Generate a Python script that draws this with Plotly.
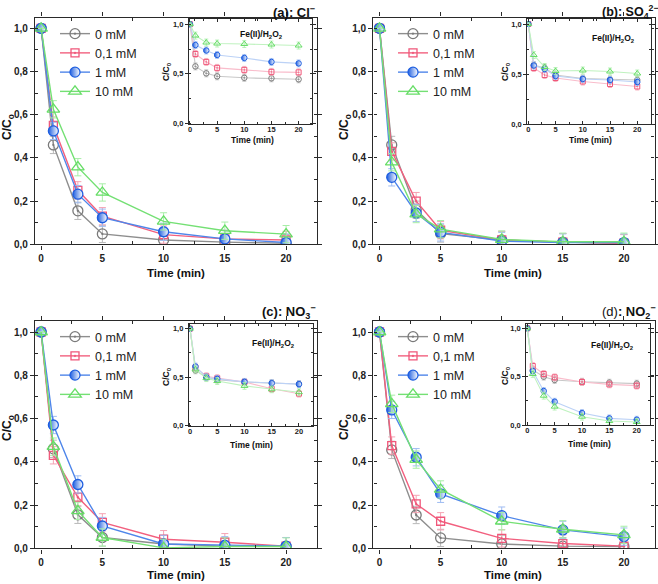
import plotly.graph_objects as go

W, H = 658, 584
FONT = "Liberation Sans, Arial, sans-serif"

time_min = [0, 1, 3, 5, 10, 15, 20]
series_names = ["0 mM", "0,1 mM", "1 mM", "10 mM"]
panel_titles = ["<b>(a): Cl<sup>−</sup></b>",
                "<b>(b): SO<sub>4</sub><sup>2−</sup></b>",
                "<b>(c): NO<sub>3</sub><sup>−</sup></b>",
                "(d)<b>: NO<sub>2</sub><sup>−</sup></b>"]
inset_label = "<b>Fe(II)/H<sub>2</sub>O<sub>2</sub></b>"
x_ticks = [0, 5, 10, 15, 20]

# (a) Cl-  main
a_0mM = [1.0, 0.46, 0.155, 0.048, 0.02, 0.01, 0.005]
a_01mM = [1.0, 0.55, 0.25, 0.13, 0.045, 0.025, 0.02]
a_1mM = [1.0, 0.525, 0.232, 0.123, 0.058, 0.025, 0.008]
a_10mM = [1.0, 0.625, 0.357, 0.24, 0.106, 0.063, 0.047]
# (a) inset Fe(II)/H2O2
ai_0mM = [1.0, 0.575, 0.505, 0.475, 0.46, 0.455, 0.445]
ai_01mM = [1.0, 0.70, 0.62, 0.56, 0.54, 0.52, 0.515]
ai_1mM = [1.0, 0.79, 0.735, 0.69, 0.66, 0.62, 0.605]
ai_10mM = [1.0, 0.885, 0.815, 0.805, 0.80, 0.795, 0.785]

# (b) SO4 2-
b_0mM = [1.0, 0.46, 0.16, 0.05, 0.02, 0.01, 0.005]
b_01mM = [1.0, 0.43, 0.20, 0.065, 0.02, 0.01, 0.005]
b_1mM = [1.0, 0.31, 0.145, 0.055, 0.015, 0.008, 0.008]
b_10mM = [1.0, 0.38, 0.14, 0.07, 0.022, 0.012, 0.012]
bi_0mM = [1.0, 0.59, 0.56, 0.49, 0.455, 0.445, 0.44]
bi_01mM = [1.0, 0.56, 0.49, 0.46, 0.425, 0.40, 0.375]
bi_1mM = [1.0, 0.585, 0.55, 0.48, 0.45, 0.44, 0.42]
bi_10mM = [1.0, 0.69, 0.57, 0.53, 0.535, 0.525, 0.505]

# (c) NO3-
c_0mM = [1.0, 0.46, 0.155, 0.05, 0.02, 0.01, 0.01]
c_01mM = [1.0, 0.43, 0.236, 0.12, 0.042, 0.028, 0.01]
c_1mM = [1.0, 0.57, 0.295, 0.103, 0.02, 0.014, 0.01]
c_10mM = [1.0, 0.47, 0.173, 0.05, 0.002, 0.008, 0.008]
ci_0mM = [1.0, 0.57, 0.50, 0.475, 0.45, 0.44, 0.43]
ci_01mM = [1.0, 0.60, 0.51, 0.49, 0.45, 0.38, 0.33]
ci_1mM = [1.0, 0.61, 0.50, 0.483, 0.452, 0.438, 0.428]
ci_10mM = [1.0, 0.58, 0.49, 0.46, 0.41, 0.375, 0.345]

# (d) NO2-
d_0mM = [1.0, 0.455, 0.154, 0.048, 0.02, 0.01, 0.008]
d_01mM = [1.0, 0.475, 0.205, 0.125, 0.046, 0.022, 0.01]
d_1mM = [1.0, 0.64, 0.421, 0.252, 0.151, 0.085, 0.054]
d_10mM = [1.0, 0.668, 0.41, 0.272, 0.125, 0.088, 0.062]
di_0mM = [1.0, 0.569, 0.50, 0.466, 0.448, 0.438, 0.428]
di_01mM = [1.0, 0.61, 0.528, 0.493, 0.445, 0.42, 0.407]
di_1mM = [1.0, 0.558, 0.352, 0.241, 0.124, 0.069, 0.055]
di_10mM = [1.0, 0.528, 0.303, 0.19, 0.086, 0.041, 0.031]

main_err = [0, 0.04, 0.04, 0.04, 0.04, 0.04, 0.04]
inset_err = [0, 0.035, 0.035, 0.035, 0.035, 0.035, 0.035]

main_data = [[a_0mM, a_01mM, a_1mM, a_10mM],
             [b_0mM, b_01mM, b_1mM, b_10mM],
             [c_0mM, c_01mM, c_1mM, c_10mM],
             [d_0mM, d_01mM, d_1mM, d_10mM]]
inset_data = [[ai_0mM, ai_01mM, ai_1mM, ai_10mM],
              [bi_0mM, bi_01mM, bi_1mM, bi_10mM],
              [ci_0mM, ci_01mM, ci_1mM, ci_10mM],
              [di_0mM, di_01mM, di_1mM, di_10mM]]

# styles per series
styles = [
    dict(symbol="circle-open-dot", mcol="#7a7a7a", lcol="#8e8e8e", ecol="#b8b8b8",
         icol="#c8c8c8", size=10, isize=5.5, grad=False),
    dict(symbol="square-open-dot", mcol="#f0577a", lcol="#f2607f", ecol="#f5a3b3",
         icol="#f9bccb", size=8, isize=5, grad=False),
    dict(symbol="circle", mcol="#1f5fe0", lcol="#4f86ea", ecol="#9ebcf2",
         icol="#bcd2f6", size=10, isize=5.5, grad=True),
    dict(symbol="triangle-up-open", mcol="#66dd66", lcol="#74e074", ecol="#a8eea8",
         icol="#bff2bf", size=11, isize=6, grad=False),
]

def fx(p):
    return p / W

def fy(p):
    return 1 - p / H

panels = [
    dict(mx=(35, 316.7), my=(17.5, 244.3), ix=(188.9, 312.2), iy=(19.2, 123.5),
         leg=(55, 19), title=(270.5, 12), lab=(261, 34.5),
         ytit=(8, 127), xtit=(176, 273), iyt=(166, 72), ixt=(252, 140)),
    dict(mx=(373.4, 654.5), my=(17.5, 244.3), ix=(527.2, 650.9), iy=(19.0, 124.0),
         leg=(393, 19), title=(600, 12), lab=(613, 38),
         ytit=(345, 127), xtit=(513, 273), iyt=(505, 72), ixt=(590, 140)),
    dict(mx=(35, 316.7), my=(321.2, 548.3), ix=(188.9, 312.6), iy=(323.8, 425.7),
         leg=(55, 322), title=(260, 311.5), lab=(273, 343),
         ytit=(8, 428), xtit=(176, 575), iyt=(166, 377), ixt=(251, 445)),
    dict(mx=(373.4, 654.5), my=(321.2, 548.3), ix=(526.2, 650.4), iy=(323.5, 425.0),
         leg=(393, 322), title=(600, 312), lab=(612, 345),
         ytit=(345, 427), xtit=(513, 575), iyt=(505, 376), ixt=(589, 444)),
]
title_sizes = [13, 12.5, 13, 13]

fig = go.Figure()
AX = "#2a2a2a"

for p, pan in enumerate(panels):
    mi = p + 1
    ii = p + 5
    mxs = "x" if mi == 1 else f"x{mi}"
    mys = "y" if mi == 1 else f"y{mi}"
    ixs, iys = f"x{ii}", f"y{ii}"
    legname = "legend" if p == 0 else f"legend{p + 1}"

    for s, name in enumerate(series_names):
        st = styles[s]
        marker = dict(symbol=st["symbol"], size=st["isize"], color=st["mcol"],
                      line=dict(color=st["mcol"], width=1))
        if st["grad"]:
            marker["gradient"] = dict(type="horizontal", color="white")
        fig.add_trace(go.Scatter(
            x=time_min, y=inset_data[p][s], mode="lines+markers", name=name,
            xaxis=ixs, yaxis=iys, showlegend=False,
            line=dict(color=st["icol"], width=1.1), marker=marker,
            error_y=dict(type="data", array=inset_err, color=st["ecol"],
                         thickness=0.8, width=2),
        ))
    for s, name in enumerate(series_names):
        st = styles[s]
        marker = dict(symbol=st["symbol"], size=st["size"], color=st["mcol"],
                      line=dict(color=st["mcol"], width=1.3))
        if st["grad"]:
            marker["gradient"] = dict(type="horizontal", color="white")
        fig.add_trace(go.Scatter(
            x=time_min, y=main_data[p][s], mode="lines+markers", name=name,
            xaxis=mxs, yaxis=mys, legend=legname, showlegend=True,
            line=dict(color=st["lcol"], width=1.4), marker=marker,
            error_y=dict(type="data", array=main_err, color=st["ecol"],
                         thickness=1, width=3.5),
        ))

    tickfont_main = dict(family=FONT, size=10, color="#222", weight="bold")
    tickfont_in = dict(family=FONT, size=7.5, color="#222", weight="bold")
    common = dict(showline=True, linecolor=AX, mirror="allticks", showgrid=False,
                  zeroline=False, tickcolor=AX, automargin=False)
    fig.layout[f"xaxis{'' if mi == 1 else mi}"] = dict(
        common, domain=[fx(pan["mx"][0]), fx(pan["mx"][1])], anchor=mys,
        range=[-0.5, 22.5], tickvals=x_ticks, ticks="outside", ticklen=4,
        tickwidth=1.2, linewidth=1.4, tickfont=tickfont_main,
        minor=dict(tickvals=[2.5, 7.5, 12.5, 17.5], ticks="inside", ticklen=3,
                   tickcolor=AX, tickwidth=1.1))
    fig.layout[f"yaxis{'' if mi == 1 else mi}"] = dict(
        common, domain=[fy(pan["my"][1]), fy(pan["my"][0])], anchor=mxs,
        range=[0, 1.05], tick0=0, dtick=0.2, tickformat=".1f", ticks="outside",
        ticklen=4, tickwidth=1.2, linewidth=1.4, tickfont=tickfont_main,
        minor=dict(dtick=0.1, ticks="inside", ticklen=3, tickcolor=AX, tickwidth=1.1))
    fig.layout[f"xaxis{ii}"] = dict(
        common, domain=[fx(pan["ix"][0]), fx(pan["ix"][1])], anchor=iys,
        range=[-0.2, 22.5], tickvals=x_ticks, ticks="inside", ticklen=3,
        tickwidth=1, linewidth=1, tickfont=tickfont_in, ticklabelstandoff=-2,
        minor=dict(tickvals=[2.5, 7.5, 12.5, 17.5], ticks="inside", ticklen=2,
                   tickcolor=AX, tickwidth=0.8))
    fig.layout[f"yaxis{ii}"] = dict(
        common, domain=[fy(pan["iy"][1]), fy(pan["iy"][0])], anchor=ixs,
        range=[0, 1.05], tick0=0, dtick=0.5, tickformat=".1f", ticks="outside",
        ticklen=3, tickwidth=1, linewidth=1, tickfont=tickfont_in,
        minor=dict(dtick=0.25, ticks="inside", ticklen=2, tickcolor=AX, tickwidth=0.8))

    fig.layout[legname] = dict(
        x=fx(pan["leg"][0]), y=fy(pan["leg"][1]), xanchor="left", yanchor="top",
        bgcolor="rgba(0,0,0,0)", borderwidth=0, tracegroupgap=0,
        font=dict(family=FONT, size=12.5, color="#222"))

    ann = [
        dict(text=panel_titles[p], x=fx(pan["title"][0]), y=fy(pan["title"][1]),
             xanchor="left", yanchor="middle",
             font=dict(family=FONT, size=title_sizes[p], color="#111")),
        dict(text=inset_label, x=fx(pan["lab"][0]), y=fy(pan["lab"][1]),
             xanchor="center", yanchor="middle",
             font=dict(family=FONT, size=8.5, color="#111")),
        dict(text="<b>C/C<sub>o</sub></b>", x=fx(pan["ytit"][0]), y=fy(pan["ytit"][1]),
             textangle=-90, xanchor="center", yanchor="middle",
             font=dict(family=FONT, size=12, color="#111")),
        dict(text="<b>Time (min)</b>", x=fx(pan["xtit"][0]), y=fy(pan["xtit"][1]),
             xanchor="center", yanchor="middle",
             font=dict(family=FONT, size=11.5, color="#111")),
        dict(text="<b>C/C<sub>0</sub></b>", x=fx(pan["iyt"][0]), y=fy(pan["iyt"][1]),
             textangle=-90, xanchor="center", yanchor="middle",
             font=dict(family=FONT, size=8.5, color="#111")),
        dict(text="<b>Time (min)</b>", x=fx(pan["ixt"][0]), y=fy(pan["ixt"][1]),
             xanchor="center", yanchor="middle",
             font=dict(family=FONT, size=8.5, color="#111")),
    ]
    for a in ann:
        a.update(xref="paper", yref="paper", showarrow=False)
        fig.add_annotation(**a)

fig.update_layout(
    width=W, height=H,
    margin=dict(l=0, r=0, t=0, b=0, pad=0, autoexpand=False),
    paper_bgcolor="white", plot_bgcolor="rgba(0,0,0,0)",
    separators=", ", font=dict(family=FONT, color="#222"),
)

fig.write_html(
    "out.html",
    config={"displayModeBar": False},
    post_script="document.body.style.margin='0';document.body.style.padding='0';"
                "document.body.style.overflow='hidden';",
)
